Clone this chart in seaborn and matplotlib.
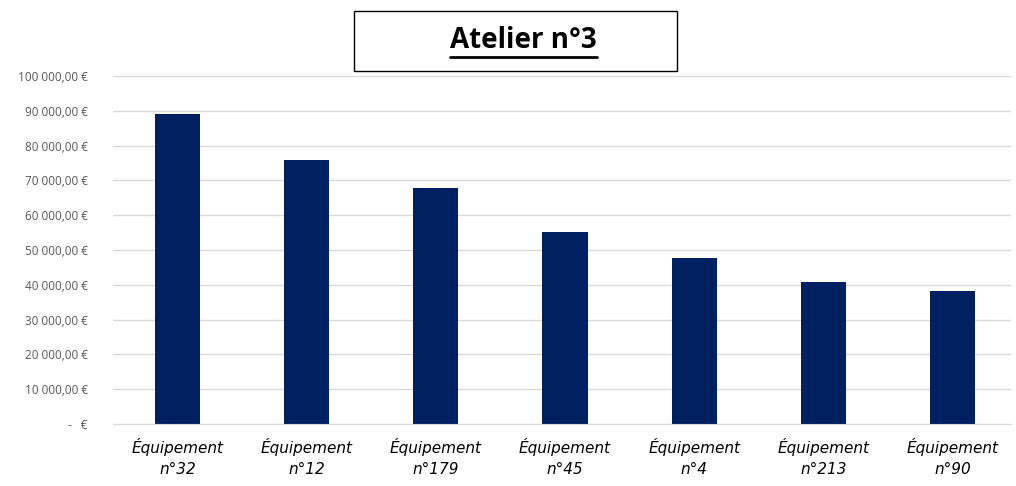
import numpy as np
import pandas as pd
import matplotlib.pyplot as plt
import seaborn as sns
from matplotlib.patches import Rectangle

# Données
equipements = ["Équipement\nn°32", "Équipement\nn°12", "Équipement\nn°179", "Équipement\nn°45",
               "Équipement\nn°4", "Équipement\nn°213", "Équipement\nn°90"]
couts = [89200, 76000, 67900, 55250, 47800, 40900, 38300]
graduations = [0, 10000, 20000, 30000, 40000, 50000, 60000, 70000, 80000, 90000, 100000]

df = pd.DataFrame({"equipement": equipements, "cout": couts})

sns.set_style("white")
plt.rcParams['font.family'] = ['Open Sans', 'DejaVu Sans']

fig = plt.figure(figsize=(10.16, 4.86), dpi=100)
ax = fig.add_axes([0.111, 0.1276, 0.884, 0.716])

sns.barplot(data=df, x="equipement", y="cout", color="#002060", width=0.35,
            saturation=1, linewidth=0, ax=ax)

ax.set_ylim(0, 100000)
ax.set_xlim(-0.5, 6.45)
ax.set_yticks(graduations)


def format_euro(v):
    if v == 0:
        return "-   €"
    return f"{int(v):,}".replace(",", " ") + ",00 €"


ax.set_yticklabels([format_euro(v) for v in graduations], fontsize=8.5, color="#595959")
ax.set_xticks(range(len(equipements)))
ax.set_xticklabels(equipements, fontsize=11, style="italic", color="#000000",
                   linespacing=1.5, family=['Liberation Sans Narrow', 'DejaVu Sans'])
ax.tick_params(axis="y", length=0, pad=18)
ax.tick_params(axis="x", length=0, pad=10)
ax.yaxis.grid(True, color="#D9D9D9", linewidth=1)
ax.set_axisbelow(True)
for s in ["top", "right", "left"]:
    ax.spines[s].set_visible(False)
ax.spines["bottom"].set_color("#D9D9D9")
ax.set_xlabel("")
ax.set_ylabel("")

# Titre dans un cadre, souligné
fig.patches.append(Rectangle((354 / 1016, 1 - 71 / 486), 323 / 1016, 60 / 486,
                             transform=fig.transFigure, fill=False,
                             edgecolor="black", linewidth=1))
titre = fig.text(0.5155, 1 - 41 / 486, "Atelier n°3", ha="center", va="center",
                 fontsize=20, fontweight="bold", color="black",
                 family=['Open Sans', 'DejaVu Sans'])
fig.canvas.draw()
bb = titre.get_window_extent().transformed(fig.transFigure.inverted())
fig.lines.append(plt.Line2D([bb.x0, bb.x1], [1 - 57 / 486] * 2, transform=fig.transFigure,
                            color="black", linewidth=2))

fig.savefig("out.png", dpi=100)
